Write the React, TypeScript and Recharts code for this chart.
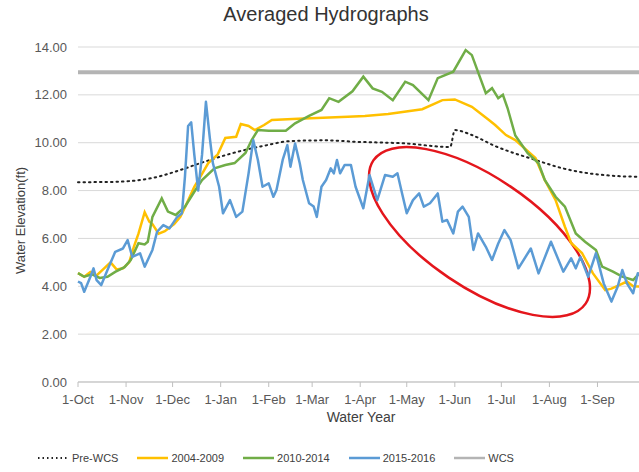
import React from 'react';
import { LineChart, Line, XAxis, YAxis, CartesianGrid, Legend, Customized } from 'recharts';

// Day of water year (0 = 1-Oct) for month starts
const monthTicks = [0, 31, 61, 92, 123, 151, 182, 212, 243, 273, 304, 335];
const monthLabels = ['1-Oct', '1-Nov', '1-Dec', '1-Jan', '1-Feb', '1-Mar', '1-Apr', '1-May', '1-Jun', '1-Jul', '1-Aug', '1-Sep'];
const yTicks = [0, 2, 4, 6, 8, 10, 12, 14];

const seriesNames = ['Pre-WCS', '2004-2009', '2010-2014', '2015-2016', 'WCS'];

const preWCS: [number, number][] = [
  [0, 8.35], [21, 8.36], [46, 8.5], [66, 8.86], [79, 9.15], [100, 9.57], [122, 9.9], [137, 10.07],
  [160, 10.1], [179, 10.04], [211, 9.97], [240, 9.82], [243, 10.53], [254, 10.32], [269, 9.86],
  [295, 9.28], [312, 8.94], [333, 8.69], [362, 8.58], [365, 8.58],
];

const y2004_2009: [number, number][] = [
  [0, 4.55], [4, 4.4], [8, 4.6], [12, 4.45], [16, 4.7], [21, 5.0], [25, 4.7], [29, 4.75], [33, 5.0],
  [36, 5.65], [39, 6.2], [43, 7.1], [46, 6.7], [48, 6.6], [52, 6.2], [56, 6.3], [62, 6.6], [66, 6.9],
  [69, 7.3], [75, 8.16], [80, 8.7], [84, 9.15], [90, 9.5], [95, 10.2], [102, 10.25], [105, 10.78],
  [110, 10.7], [114, 10.53], [120, 10.74], [125, 10.95], [142, 11.0], [174, 11.09], [185, 11.12],
  [200, 11.2], [222, 11.4], [235, 11.78], [243, 11.81], [254, 11.5], [265, 10.95], [269, 10.74],
  [276, 10.32], [282, 10.11], [295, 9.36], [301, 8.44], [308, 7.6], [314, 6.49], [318, 5.81],
  [325, 5.39], [332, 4.55], [340, 3.84], [344, 3.9], [349, 4.05], [354, 4.2], [358, 4.0], [365, 3.98],
];

const y2010_2014: [number, number][] = [
  [0, 4.55], [4, 4.4], [9, 4.5], [14, 4.35], [19, 4.4], [24, 4.6], [30, 4.8], [34, 5.1], [39, 5.8],
  [43, 5.75], [45, 5.86], [48, 6.9], [54, 7.67], [58, 7.12], [63, 6.98], [69, 7.33], [75, 7.95],
  [80, 8.44], [88, 8.93], [95, 9.07], [101, 9.15], [108, 9.57], [112, 10.11], [116, 10.53],
  [123, 10.5], [134, 10.5], [140, 10.81], [149, 11.12], [157, 11.37], [162, 11.86], [168, 11.71],
  [177, 12.15], [184, 12.76], [190, 12.27], [196, 12.13], [203, 11.78], [211, 12.55], [216, 12.41],
  [226, 11.78], [232, 12.7], [242, 12.97], [250, 13.87], [254, 13.66], [258, 12.95], [263, 12.07],
  [267, 12.28], [271, 11.86], [274, 12.0], [277, 11.45], [282, 10.3], [290, 9.56], [297, 9.14],
  [301, 8.44], [308, 7.74], [314, 7.33], [321, 6.21], [327, 5.86], [334, 5.52], [338, 4.82],
  [345, 4.61], [351, 4.4], [358, 4.26], [362, 4.54], [365, 4.5],
];

const y2015_2016: [number, number][] = [
  [0, 4.2], [2, 4.13], [4, 3.77], [8, 4.4], [10, 4.75], [12, 4.26], [15, 4.05], [19, 4.68],
  [24, 5.44], [29, 5.58], [32, 5.93], [35, 5.23], [40, 5.38], [43, 4.82], [48, 5.52], [51, 6.28],
  [55, 6.56], [59, 6.42], [64, 6.9], [67, 7.05], [69, 8.6], [71, 10.7], [73, 10.85], [75, 9.5],
  [77.5, 8.0], [80, 9.5], [82.5, 11.71], [85, 10.2], [87, 9.14], [91, 8.16], [93.5, 7.05],
  [98, 7.6], [102, 6.9], [106, 7.12], [110, 8.72], [113, 10.11], [116, 9.28], [119, 8.16],
  [123, 8.3], [126, 7.74], [128, 8.02], [132, 9.28], [135, 9.9], [137, 9.0], [140, 9.97],
  [143, 9.14], [145, 8.44], [149, 7.47], [152, 7.33], [154, 6.9], [157, 8.16], [160, 8.44],
  [163, 8.93], [165, 8.72], [167, 9.28], [169, 8.72], [172, 9.07], [176, 9.07], [179, 8.16],
  [184, 7.26], [188, 8.65], [193, 7.6], [198, 8.65], [203, 8.58], [206, 8.72], [209, 7.88],
  [212, 7.05], [216, 7.6], [220, 7.88], [223, 7.33], [227, 7.47], [232, 7.88], [235, 6.7],
  [238, 6.77], [242, 6.21], [245, 7.12], [248, 7.33], [252, 6.9], [255, 5.52], [258, 6.21],
  [263, 5.65], [267, 5.1], [271, 5.79], [275, 6.35], [279, 5.93], [284, 4.75], [292, 5.58],
  [297, 4.54], [305, 5.86], [313, 4.61], [318, 5.17], [321, 4.75], [324, 5.23], [329, 4.4],
  [334, 5.38], [339, 4.12], [344, 3.36], [348, 3.98], [351, 4.68], [354, 4.12], [358, 3.71],
  [361, 4.54], [365, 4.4],
];

const wcsLevel = 12.95;
const wcs: [number, number][] = [[0, wcsLevel], [365, wcsLevel]];

const toRows = (pts: [number, number][]) => pts.map(([day, value]) => ({ day, value }));

const FONT = '"Liberation Sans", Arial, sans-serif';

const legendStyles: Record<string, { color: string; dash?: string }> = {
  'Pre-WCS': { color: '#222222', dash: '1.5 3' },
  '2004-2009': { color: '#ffc000' },
  '2010-2014': { color: '#70ad47' },
  '2015-2016': { color: '#5b9bd5' },
  'WCS': { color: '#b4b4b4' },
};

const LegendContent = () => (
  <div style={{ display: 'flex', alignItems: 'center', fontFamily: FONT, fontSize: 11, color: '#404040', paddingLeft: 37 }}>
    {seriesNames.map((n) => {
      const s = legendStyles[n];
      return (
        <div key={n} style={{ display: 'flex', alignItems: 'center', marginRight: 18 }}>
          <svg width={33} height={6} style={{ marginRight: 2 }}>
            <line x1={1} y1={3} x2={32} y2={3} stroke={s.color} strokeWidth={s.dash ? 1.8 : 2.5} strokeDasharray={s.dash} />
          </svg>
          <span>{n}</span>
        </div>
      );
    })}
  </div>
);

const Annotation = () => (
  <ellipse cx={479.5} cy={232} rx={128} ry={55} transform="rotate(34 479.5 232)" fill="none" stroke="#e4161c" strokeWidth={2.5} />
);

const YLabel = (props: any) => {
  const vb = props.viewBox || { x: 0, y: 47, width: 78, height: 335 };
  const cx = 20;
  const cy = vb.y + vb.height / 2 + 6;
  return (
    <text x={cx} y={cy} transform={`rotate(-90 ${cx} ${cy})`} textAnchor="middle" dominantBaseline="central" fill="#404040" fontSize={13} fontFamily={FONT}>
      Water Elevation(ft)
    </text>
  );
};

export default function App() {
  return (
    <div style={{ position: 'absolute', left: 0, top: 0, width: 639, height: 472, overflow: 'hidden', background: '#fff' }}>
      <div style={{ position: 'absolute', left: 226, top: 3, width: 200, textAlign: 'center', fontFamily: FONT, fontSize: 20, color: '#333', whiteSpace: 'nowrap', display: 'flex', justifyContent: 'center' }}>
        Averaged Hydrographs
      </div>
      <LineChart width={661} height={472} margin={{ top: 47, right: 17, left: 0, bottom: 45 }}>
        <CartesianGrid vertical={false} stroke="#d9d9d9" />
        <XAxis
          type="number"
          dataKey="day"
          domain={[0, 365]}
          ticks={monthTicks}
          tickFormatter={(v: number) => monthLabels[monthTicks.indexOf(v)] ?? ''}
          interval={0}
          tickSize={5}
          tickMargin={8}
          height={45}
          stroke="#bfbfbf"
          tick={{ fill: '#595959', fontSize: 13, fontFamily: FONT }}
          label={{ value: 'Water Year', position: 'insideBottom', offset: 5, fill: '#404040', fontSize: 14, fontFamily: FONT }}
        />
        <YAxis
          type="number"
          domain={[0, 14]}
          ticks={yTicks}
          width={78}
          axisLine={false}
          tickLine={false}
          tickMargin={5}
          tickFormatter={(v: number) => v.toFixed(2)}
          tick={{ fill: '#595959', fontSize: 13, fontFamily: FONT }}
          label={<YLabel />}
        />
        <Line data={toRows(wcs)} dataKey="value" name="WCS" stroke="#b4b4b4" strokeWidth={4} dot={false} isAnimationActive={false} />
        <Line data={toRows(preWCS)} dataKey="value" name="Pre-WCS" type="monotone" stroke="#222222" strokeWidth={2} strokeDasharray="1.5 4" strokeLinecap="round" dot={false} isAnimationActive={false} />
        <Line data={toRows(y2004_2009)} dataKey="value" name="2004-2009" stroke="#ffc000" strokeWidth={2.5} dot={false} isAnimationActive={false} />
        <Line data={toRows(y2010_2014)} dataKey="value" name="2010-2014" stroke="#70ad47" strokeWidth={2.5} dot={false} isAnimationActive={false} />
        <Line data={toRows(y2015_2016)} dataKey="value" name="2015-2016" stroke="#5b9bd5" strokeWidth={2.5} strokeLinejoin="round" dot={false} isAnimationActive={false} />
        <Customized component={Annotation} />
        <Legend layout="horizontal" verticalAlign="middle" align="center" content={LegendContent} wrapperStyle={{ top: 452, left: 0, width: 661 }} />
      </LineChart>
    </div>
  );
}
